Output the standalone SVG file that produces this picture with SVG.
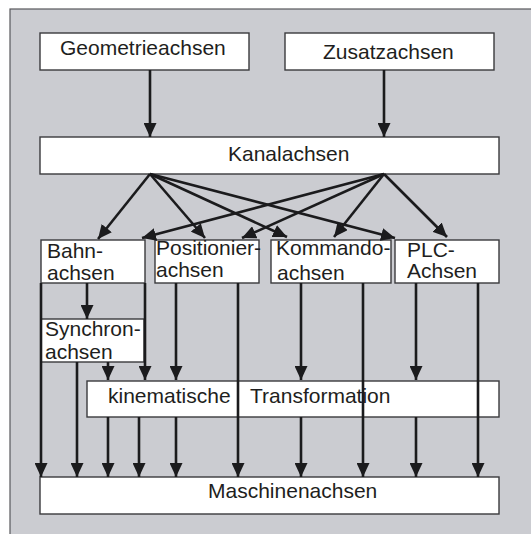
<svg xmlns="http://www.w3.org/2000/svg" width="531" height="534" viewBox="0 0 531 534">
<style>
.bg{fill:#cbccd1;stroke:#58585c;stroke-width:1.2}
.box{fill:#ffffff;stroke:#3a3a3d;stroke-width:1.4}
.t{font-family:"Liberation Sans",Arial,sans-serif;font-size:21px;fill:#1e1e20}
.c{stroke:#1b1b1d;stroke-width:2.6;fill:none}
.a{marker-end:url(#ah)}
</style>
<defs>
<marker id="ah" viewBox="0 0 14 13" refX="14" refY="6.5" markerWidth="14" markerHeight="13" markerUnits="userSpaceOnUse" orient="auto">
<path d="M0,0 L14,6.5 L0,13 z" fill="#1b1b1d"/>
</marker>
</defs>
<rect class="bg" x="10" y="9" width="530" height="535"/>

<g id="geometrieachsen"><rect class="box" x="40" y="33" width="209" height="37"/><text class="t" x="60" y="55">Geometrieachsen</text></g>
<g id="zusatzachsen"><rect class="box" x="285" y="33" width="209" height="37"/><text class="t" x="323" y="59">Zusatzachsen</text></g>
<g id="kanalachsen"><rect class="box" x="40" y="137" width="459" height="37"/><text class="t" x="228" y="161">Kanalachsen</text></g>
<g id="bahnachsen"><rect class="box" x="41" y="240" width="104" height="43"/><text class="t" x="47" y="258">Bahn-</text><text class="t" x="47" y="280">achsen</text></g>
<g id="positionierachsen"><rect class="box" x="155" y="240" width="104" height="43"/><text class="t" x="156" y="255">Positionier-</text><text class="t" x="156" y="277">achsen</text></g>
<g id="kommandoachsen"><rect class="box" x="271" y="240" width="120" height="43"/><text class="t" x="276" y="255">Kommando-</text><text class="t" x="277" y="280">achsen</text></g>
<g id="plcachsen"><rect class="box" x="395" y="240" width="104" height="43"/><text class="t" x="407" y="257">PLC-</text><text class="t" x="407" y="278">Achsen</text></g>
<g id="synchronachsen"><rect class="box" x="41" y="319" width="103" height="43"/><text class="t" x="45" y="336">Synchron-</text><text class="t" x="45" y="359">achsen</text></g>
<g id="kinematische"><rect class="box" x="87" y="381" width="412" height="36"/><text class="t" y="403"><tspan x="108">kinematische</tspan><tspan x="250">Transformation</tspan></text></g>
<g id="maschinenachsen"><rect class="box" x="40" y="477" width="459" height="37"/><text class="t" x="208" y="498">Maschinenachsen</text></g>

<g id="connectors">
<line class="c a" x1="150" y1="70" x2="150" y2="137"/>
<line class="c a" x1="384" y1="70" x2="384" y2="137"/>
<line class="c a" x1="150" y1="174" x2="98" y2="239"/>
<line class="c a" x1="150" y1="174" x2="205" y2="238"/>
<line class="c a" x1="150" y1="174" x2="287" y2="237"/>
<line class="c a" x1="150" y1="174" x2="395" y2="238"/>
<line class="c a" x1="384" y1="174" x2="142" y2="238"/>
<line class="c a" x1="384" y1="174" x2="242" y2="238"/>
<line class="c a" x1="384" y1="174" x2="334" y2="237"/>
<line class="c a" x1="384" y1="174" x2="447" y2="237"/>
<line class="c a" x1="87" y1="283" x2="87" y2="319"/>
<line class="c a" x1="41" y1="283" x2="41" y2="477"/>
<line class="c a" x1="145" y1="283" x2="145" y2="380"/>
<line class="c a" x1="77" y1="362" x2="77" y2="477"/>
<line class="c a" x1="108" y1="362" x2="108" y2="380"/>
<line class="c a" x1="176" y1="283" x2="176" y2="380"/>
<line class="c a" x1="238" y1="283" x2="238" y2="477"/>
<line class="c a" x1="301" y1="283" x2="301" y2="380"/>
<line class="c a" x1="363" y1="283" x2="363" y2="477"/>
<line class="c a" x1="416" y1="283" x2="416" y2="380"/>
<line class="c a" x1="478" y1="283" x2="478" y2="477"/>
<line class="c a" x1="108" y1="417" x2="108" y2="477"/>
<line class="c a" x1="139" y1="417" x2="139" y2="477"/>
<line class="c a" x1="176" y1="417" x2="176" y2="477"/>
<line class="c a" x1="301" y1="417" x2="301" y2="477"/>
<line class="c a" x1="416" y1="417" x2="416" y2="477"/>
</g>
</svg>
